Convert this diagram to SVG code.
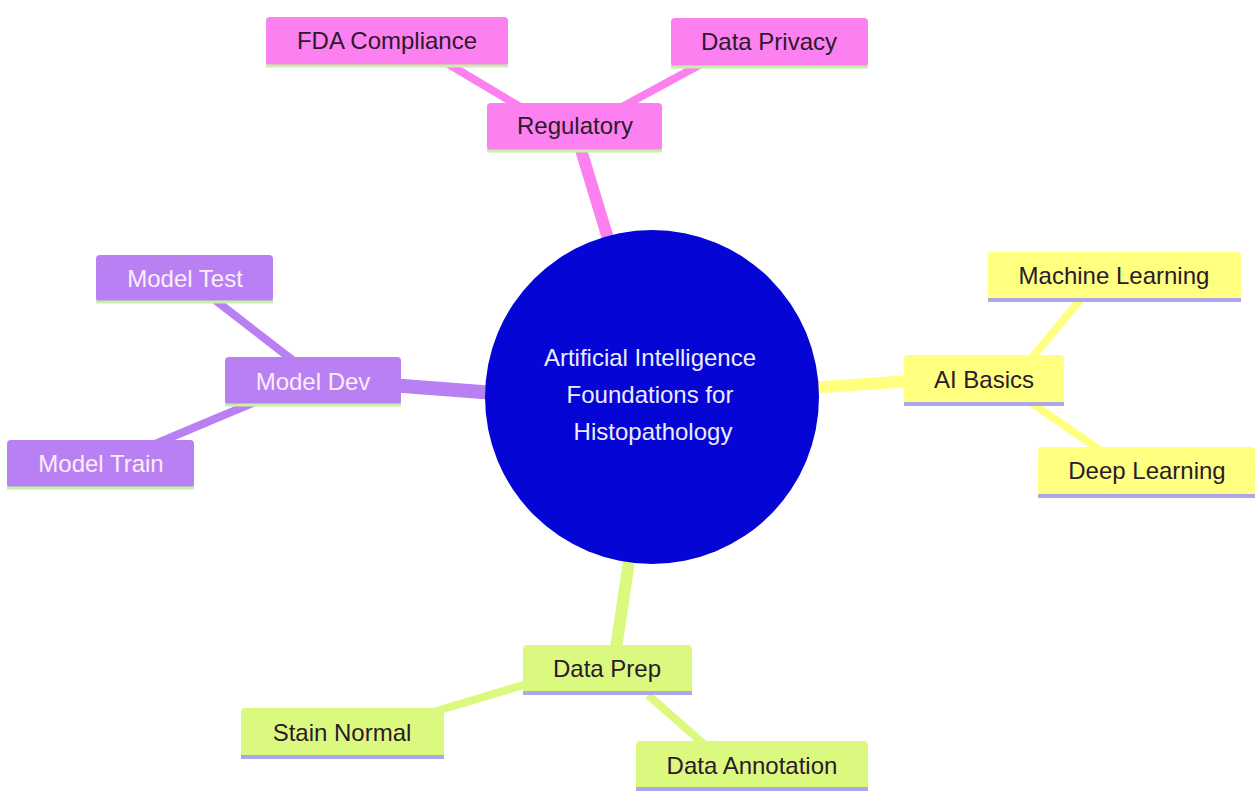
<svg xmlns="http://www.w3.org/2000/svg" width="1255" height="793" viewBox="0 0 1255 793">
<style>
  text { font-family: "Liberation Sans", Arial, sans-serif; font-size: 24px; text-anchor: middle; }
  .e0 { stroke-linecap: butt; fill: none; }
  .pink { fill: #fd80f0; }
  .purple { fill: #b980f4; }
  .yellow { fill: #ffff80; }
  .green { fill: #dcf97f; }
  .lpink, .lpurple { stroke: #c6f2a6; stroke-width: 3; }
  .lyellow, .lgreen { stroke: #ada6e8; stroke-width: 4; }
  .tdark { fill: #2a1a2a; }
  .tlight { fill: #fbeefb; }
</style>
<rect width="1255" height="793" fill="#ffffff"/>
<g id="connectors">
  <line x1="578" y1="140" x2="610" y2="245" stroke="#fd80f0" stroke-width="12"/>
  <line x1="390" y1="385" x2="495" y2="393" stroke="#b980f4" stroke-width="14"/>
  <line x1="810" y1="388" x2="910" y2="381" stroke="#ffff80" stroke-width="12"/>
  <line x1="630" y1="555" x2="615" y2="655" stroke="#dcf97f" stroke-width="12"/>
  <line x1="445" y1="62" x2="522" y2="108" stroke="#fd80f0" stroke-width="8"/>
  <line x1="705" y1="62" x2="620" y2="108" stroke="#fd80f0" stroke-width="8"/>
  <line x1="215" y1="300" x2="295" y2="362" stroke="#b980f4" stroke-width="8"/>
  <line x1="255" y1="402" x2="155" y2="444" stroke="#b980f4" stroke-width="8"/>
  <line x1="1080" y1="300" x2="1030" y2="360" stroke="#ffff80" stroke-width="8"/>
  <line x1="1030" y1="402" x2="1100" y2="450" stroke="#ffff80" stroke-width="8"/>
  <line x1="530" y1="683" x2="430" y2="713" stroke="#dcf97f" stroke-width="8"/>
  <line x1="648" y1="695" x2="705" y2="745" stroke="#dcf97f" stroke-width="8"/>
</g>
<g id="root">
  <circle cx="652" cy="397" r="167" fill="#0505d6"/>
  <text x="650" y="366" fill="#ececfa">Artificial Intelligence</text>
  <text x="650" y="403" fill="#ececfa">Foundations for</text>
  <text x="653" y="440" fill="#ececfa">Histopathology</text>
</g>
<g id="regulatory">
  <rect class="pink" x="487" y="103" width="175" height="48" rx="4"/>
  <line class="lpink" x1="487" y1="151" x2="662" y2="151"/>
  <text class="tdark" x="575" y="134">Regulatory</text>
</g>
<g id="fda">
  <rect class="pink" x="266" y="17" width="242" height="49" rx="4"/>
  <line class="lpink" x1="266" y1="66" x2="508" y2="66"/>
  <text class="tdark" x="387" y="49">FDA Compliance</text>
</g>
<g id="privacy">
  <rect class="pink" x="671" y="18" width="197" height="49" rx="4"/>
  <line class="lpink" x1="671" y1="67" x2="868" y2="67"/>
  <text class="tdark" x="769" y="50">Data Privacy</text>
</g>
<g id="modeldev">
  <rect class="purple" x="225" y="357" width="176" height="48" rx="4"/>
  <line class="lpurple" x1="225" y1="405" x2="401" y2="405"/>
  <text class="tlight" x="313" y="390">Model Dev</text>
</g>
<g id="modeltest">
  <rect class="purple" x="96" y="255" width="177" height="47" rx="4"/>
  <line class="lpurple" x1="96" y1="302" x2="273" y2="302"/>
  <text class="tlight" x="185" y="287">Model Test</text>
</g>
<g id="modeltrain">
  <rect class="purple" x="7" y="440" width="187" height="48" rx="4"/>
  <line class="lpurple" x1="7" y1="488" x2="194" y2="488"/>
  <text class="tlight" x="101" y="472">Model Train</text>
</g>
<g id="aibasics">
  <rect class="yellow" x="904" y="355" width="160" height="51" rx="4"/>
  <line class="lyellow" x1="904" y1="404" x2="1064" y2="404"/>
  <text class="tdark" x="984" y="388">AI Basics</text>
</g>
<g id="ml">
  <rect class="yellow" x="988" y="252" width="253" height="50" rx="4"/>
  <line class="lyellow" x1="988" y1="300" x2="1241" y2="300"/>
  <text class="tdark" x="1114" y="284">Machine Learning</text>
</g>
<g id="dl">
  <rect class="yellow" x="1038" y="447" width="217" height="51" rx="4"/>
  <line class="lyellow" x1="1038" y1="496" x2="1255" y2="496"/>
  <text class="tdark" x="1147" y="479">Deep Learning</text>
</g>
<g id="dataprep">
  <rect class="green" x="523" y="645" width="169" height="50" rx="4"/>
  <line class="lgreen" x1="523" y1="693" x2="692" y2="693"/>
  <text class="tdark" x="607" y="677">Data Prep</text>
</g>
<g id="stain">
  <rect class="green" x="241" y="708" width="203" height="51" rx="4"/>
  <line class="lgreen" x1="241" y1="757" x2="444" y2="757"/>
  <text class="tdark" x="342" y="741">Stain Normal</text>
</g>
<g id="annotation">
  <rect class="green" x="636" y="741" width="232" height="50" rx="4"/>
  <line class="lgreen" x1="636" y1="789" x2="868" y2="789"/>
  <text class="tdark" x="752" y="774">Data Annotation</text>
</g>
</svg>
